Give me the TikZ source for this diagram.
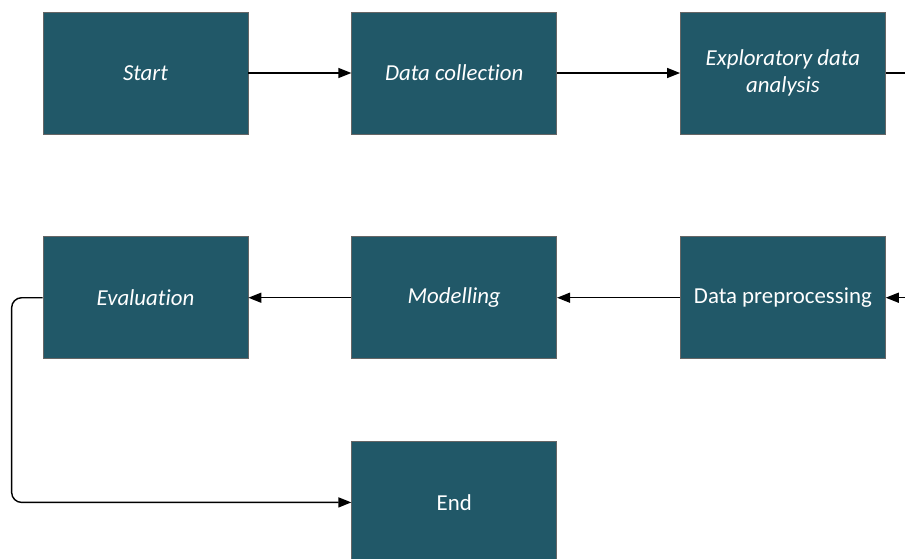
\documentclass[tikz,border=0pt]{standalone}
\usepackage{fontspec}
\setmainfont{Carlito}[Ligatures=CommonOff]
\usetikzlibrary{positioning,arrows.meta}
\definecolor{stepteal}{RGB}{33,88,104}

\begin{document}
\begin{tikzpicture}[
    box/.style={rectangle, draw=black!60, fill=stepteal, text=white, minimum width=4.1cm, minimum height=2.44cm, align=center, font=\fontsize{13}{15}\selectfont\itshape},
    boxup/.style={box, font=\fontsize{13}{15}\selectfont},
    flow/.style={-{Triangle[length=2.6mm,width=2mm]}, line width=0.8pt}]
    \useasboundingbox (0,0) rectangle (18.1,-11.16);
    \clip (0,0) rectangle (18.1,-11.16);
    % Top row
    \node [box] (start) at (2.91,-1.46) {Start};
    \node [box, right=2.06cm of start] (collect) {Data collection};
    \node [box, right=2.46cm of collect] (explore) {Exploratory data\\analysis};
    
    % Middle row
    \node [box, below=2.04cm of start] (eval) {Evaluation};
    \node [box, below=2.04cm of collect] (model) {Modelling};
    \node [boxup, below=2.04cm of explore] (prep) {Data preprocessing};
    
    % Last step
    \node [boxup, below=1.64cm of model] (finish) {End};
    
    % Arrows
    \draw[flow] (start) -- (collect);
    \draw[flow] (collect) -- (explore);
    \draw[flow] (explore.east) -- ++(1,0) |- (prep.east);
    \draw[flow] (prep) -- (model);
    \draw[flow] (model) -- (eval);
    \draw[flow, rounded corners=0.2cm] (eval.west) -- ++(-0.62,0) |- (finish.west);
\end{tikzpicture}
\end{document}
